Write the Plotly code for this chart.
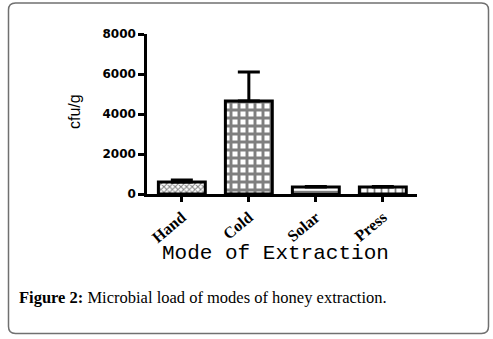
import plotly.graph_objects as go

# Data
categories = ["Hand", "Cold", "Solar", "Press"]
values = [600, 4650, 350, 350]
errors_up = [100, 1450, 30, 30]
y_ticks = [0, 2000, 4000, 6000, 8000]

# Pixel geometry of plot area
W, H = 493, 339
L, R, T, B = 147, 417, 34, 194

def px(x):
    return (x - L) / (R - L)

def py(y):
    return (B - y) / (B - T)

fig = go.Figure()
fig.add_trace(go.Bar(
    x=categories, y=values, width=0.7,
    marker=dict(
        color="white",
        line=dict(color="black", width=3),
        pattern=dict(
            shape=["x", "+", "-", "|"],
            size=[4, 8, 7, 7],
            solidity=[0.45, 0.6, 0.2, 0.25],
            fgcolor="black", bgcolor="white",
        ),
    ),
    error_y=dict(type="data", array=errors_up, arrayminus=[0] * 4, symmetric=False,
                 color="black", thickness=3, width=11),
    showlegend=False,
))

# Rounded border box
x0, x1, y0, y1, r = 8.5, 488.5, 3, 333.5, 7
def P(x, y):
    return f"{px(x)},{py(y)}"
path = (f"M {P(x0 + r, y0)} L {P(x1 - r, y0)} Q {P(x1, y0)} {P(x1, y0 + r)} "
        f"L {P(x1, y1 - r)} Q {P(x1, y1)} {P(x1 - r, y1)} "
        f"L {P(x0 + r, y1)} Q {P(x0, y1)} {P(x0, y1 - r)} "
        f"L {P(x0, y0 + r)} Q {P(x0, y0)} {P(x0 + r, y0)} Z")
fig.add_shape(type="path", path=path, xref="paper", yref="paper",
              line=dict(color="#707070", width=1.5), layer="below")

fig.add_annotation(text="cfu/g", x=px(74), y=py(112), xref="paper", yref="paper",
                   xanchor="center", yanchor="middle",
                   textangle=-90, showarrow=False,
                   font=dict(family="Liberation Sans, Arial", size=16, color="black"))
fig.add_annotation(text="Mode of Extraction", x=px(275), y=py(253), xref="paper", yref="paper",
                   xanchor="center", yanchor="middle", showarrow=False,
                   font=dict(family="Liberation Mono, Courier New", size=21, color="black"))
fig.add_annotation(text="<b>Figure 2:</b> Microbial load of modes of honey extraction.",
                   x=px(17), y=py(297), xref="paper", yref="paper",
                   xanchor="left", yanchor="middle", showarrow=False,
                   font=dict(family="Liberation Serif, Times New Roman", size=16.5, color="black"))

fig.update_layout(
    width=W, height=H,
    margin=dict(l=L, r=W - R, t=T, b=H - B),
    paper_bgcolor="white", plot_bgcolor="white",
    xaxis=dict(range=[-0.52, 3.51], showline=True, linecolor="black", linewidth=2.5,
               ticks="outside", ticklen=5, tickwidth=2.5, tickcolor="black",
               tickangle=-40, showgrid=False, zeroline=False,
               tickfont=dict(family="Liberation Serif, Times New Roman", size=16, color="black",
                             weight="bold")),
    yaxis=dict(range=[0, 8000], tickvals=y_ticks, showline=True, linecolor="black",
               linewidth=2.5, ticks="outside", ticklen=6, tickwidth=2.5, tickcolor="black",
               showgrid=False, zeroline=False,
               tickfont=dict(family="DejaVu Sans", size=12, color="black", weight="bold")),
)

fig.write_html("out.html", config={"displayModeBar": False},
               post_script="document.body.style.margin='0';")
